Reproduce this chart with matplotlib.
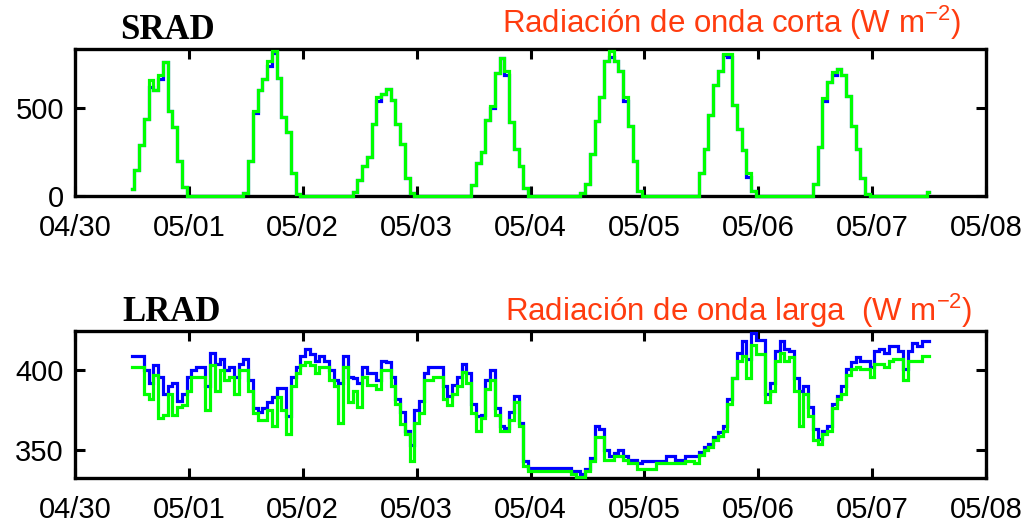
import numpy as np
import pandas as pd
import matplotlib
matplotlib.use("Agg")
import matplotlib.pyplot as plt
import matplotlib.dates as mdates

# ---------------- data (hourly, 04/30 12:00 -> 05/07 12:00) ----------------
start_time = "2009-04-30 12:00"
n_hours = 169

# Shortwave radiation (W m-2), green series
srad_green = [
    # 04/30 12-23
    40, 150, 290, 440, 660, 600, 690, 763, 480, 390, 200, 50,
    # 05/01
    0, 0, 0, 0, 0, 0, 0, 0, 0, 0, 0, 0, 17, 200, 481, 600, 662, 767, 824, 668, 450, 366, 132, 13,
    # 05/02
    0, 0, 0, 0, 0, 0, 0, 0, 0, 0, 0, 20, 90, 172, 220, 410, 560, 580, 605, 548, 410, 296, 100, 17,
    # 05/03
    0, 0, 0, 0, 0, 0, 0, 0, 0, 0, 0, 0, 60, 185, 252, 430, 510, 700, 786, 710, 420, 265, 170, 48,
    # 05/04
    0, 0, 0, 0, 0, 0, 0, 0, 0, 0, 0, 15, 70, 240, 424, 561, 767, 824, 767, 710, 560, 395, 200, 30,
    # 05/05
    0, 0, 0, 0, 0, 0, 0, 0, 0, 0, 0, 0, 128, 265, 460, 628, 710, 805, 805, 519, 380, 261, 128, 30,
    # 05/06
    0, 0, 0, 0, 0, 0, 0, 0, 0, 0, 0, 0, 70, 280, 557, 650, 704, 719, 690, 567, 395, 265, 100, 13,
    # 05/07 00-12
    0, 0, 0, 0, 0, 0, 0, 0, 0, 0, 0, 0, 20,
]

# Shortwave radiation (W m-2), blue series
srad_blue = [
    40, 150, 290, 440, 620, 600, 662, 763, 480, 390, 200, 50,
    0, 0, 0, 0, 0, 0, 0, 0, 0, 0, 0, 0, 17, 200, 470, 600, 662, 740, 810, 668, 450, 366, 132, 13,
    0, 0, 0, 0, 0, 0, 0, 0, 0, 0, 0, 20, 90, 172, 220, 410, 540, 580, 605, 548, 410, 296, 100, 17,
    0, 0, 0, 0, 0, 0, 0, 0, 0, 0, 0, 0, 60, 185, 252, 430, 500, 700, 786, 690, 420, 265, 170, 48,
    0, 0, 0, 0, 0, 0, 0, 0, 0, 0, 0, 15, 70, 240, 424, 561, 767, 790, 767, 710, 540, 395, 200, 30,
    0, 0, 0, 0, 0, 0, 0, 0, 0, 0, 0, 0, 128, 265, 460, 628, 710, 800, 790, 519, 380, 261, 110, 30,
    0, 0, 0, 0, 0, 0, 0, 0, 0, 0, 0, 0, 70, 280, 540, 650, 690, 719, 690, 567, 395, 265, 100, 13,
    0, 0, 0, 0, 0, 0, 0, 0, 0, 0, 0, 0, 20,
]

# Longwave radiation (W m-2), blue series
lrad_blue = [
    # 04/30 12-23
    409, 409, 409, 400, 392, 403, 396, 385, 390, 392, 381, 385,
    # 05/01
    396, 400, 402, 402, 390, 411, 404, 407, 400, 402, 396, 404,
    407, 394, 376, 374, 376, 380, 383, 389, 389, 371, 396, 402,
    # 05/02
    409, 413, 410, 406, 409, 406, 400, 394, 392, 409, 396, 395,
    392, 402, 398, 398, 394, 406, 405, 396, 382, 374, 362, 353,
    # 05/03
    375, 381, 398, 402, 402, 402, 390, 384, 391, 396, 404, 398,
    379, 371, 372, 394, 400, 376, 365, 364, 374, 384, 367, 343,
    # 05/04
    339, 339, 339, 339, 339, 339, 339, 339, 339, 337, 337, 335,
    338, 345, 365, 363, 350, 346, 348, 350, 346, 344, 344, 342,
    # 05/05
    343, 343, 343, 343, 343, 346, 346, 344, 344, 346, 346, 346,
    349, 352, 354, 358, 361, 365, 382, 395, 411, 418, 407, 423,
    # 05/06
    419, 419, 385, 392, 412, 418, 413, 412, 395, 387, 390, 377,
    363, 357, 362, 365, 379, 384, 390, 401, 405, 408, 406, 406,
    # 05/07 00-12
    402, 412, 413, 411, 415, 415, 412, 401, 412, 417, 415, 418, 418,
]

# Longwave radiation (W m-2), green series
lrad_green = [
    402, 402, 402, 385, 382, 397, 370, 372, 385, 372, 377, 378,
    387, 396, 396, 396, 375, 403, 387, 400, 394, 396, 385, 400,
    400, 387, 373, 369, 369, 375, 365, 383, 375, 360, 390, 398,
    403, 405, 403, 398, 402, 402, 394, 390, 367, 402, 380, 387,
    377, 396, 391, 391, 388, 400, 400, 390, 379, 366, 360, 343,
    367, 373, 394, 394, 396, 396, 382, 378, 385, 390, 399, 392,
    373, 362, 370, 388, 394, 372, 362, 362, 369, 380, 365, 340,
    337, 337, 337, 337, 337, 337, 337, 337, 337, 335, 333, 333,
    337, 343, 358, 358, 344, 344, 346, 346, 344, 342, 342, 338,
    338, 338, 338, 342, 342, 342, 342, 342, 342, 343, 343, 342,
    347, 350, 352, 356, 359, 362, 379, 395, 406, 409, 395, 416,
    410, 410, 380, 387, 406, 411, 406, 408, 387, 365, 385, 371,
    356, 354, 360, 362, 376, 382, 385, 397, 401, 402, 401, 401,
    396, 404, 404, 402, 406, 407, 407, 394, 406, 406, 406, 409, 409,
]

day_ticks = ["2009-04-30", "2009-05-01", "2009-05-02", "2009-05-03", "2009-05-04",
             "2009-05-05", "2009-05-06", "2009-05-07", "2009-05-08"]
srad_yticks = [0, 500]
lrad_yticks = [350, 400]

# ---------------- style ----------------
plt.rcParams["mathtext.fontset"] = "custom"
plt.rcParams["mathtext.rm"] = "Liberation Sans"
TICK_FONT = "Liberation Sans"
TICK_SIZE = 21

RED = "#ff3c0f"
GREEN = "#00ff00"
BLUE = "#0000ff"

times = pd.date_range(start_time, periods=n_hours, freq="h")

fig = plt.figure(figsize=(10.32, 5.25), dpi=100)
W, H = 1032, 525


def make_axes(top_px, bottom_px):
    return fig.add_axes([75 / W, 1 - bottom_px / H, (986 - 75) / W, (bottom_px - top_px) / H])


ax1 = make_axes(49, 196)
ax2 = make_axes(331, 478)

for ax, blue, green, yticks, ylim in [
    (ax1, srad_blue, srad_green, srad_yticks, (0, 835)),
    (ax2, lrad_blue, lrad_green, lrad_yticks, (332.5, 424.5)),
]:
    ax.plot(times, blue, color=BLUE, lw=2.3, drawstyle="steps-mid",
            solid_joinstyle="miter", zorder=3, clip_on=False)
    ax.plot(times, green, color=GREEN, lw=2.3, drawstyle="steps-mid",
            solid_joinstyle="miter", zorder=3.1, clip_on=False)
    ax.set_ylim(*ylim)
    ax.set_xlim(pd.Timestamp(day_ticks[0]), pd.Timestamp(day_ticks[-1]))
    ax.set_xticks(pd.to_datetime(day_ticks))
    ax.xaxis.set_major_formatter(mdates.DateFormatter("%m/%d"))
    ax.set_yticks(yticks)
    ax.tick_params(axis="both", direction="in", length=7, width=2.2,
                   top=True, right=True, labelsize=TICK_SIZE, colors="black")
    ax.tick_params(axis="x", pad=13)
    ax.tick_params(axis="y", pad=8)
    for lab in ax.get_xticklabels() + ax.get_yticklabels():
        lab.set_fontfamily(TICK_FONT)
    for s in ax.spines.values():
        s.set_linewidth(2.4)
        s.set_color("black")
        s.set_zorder(2.5)

fig.text(120 / W, 1 - 39 / H, "SRAD", fontsize=25, fontweight="bold",
         family="Liberation Serif", va="baseline", ha="left")
fig.text(122 / W, 1 - 321 / H, "LRAD", fontsize=25, fontweight="bold",
         family="Liberation Serif", va="baseline", ha="left")

fig.text(502 / W, 1 - 33 / H, r"Radiación de onda corta (W m$\mathregular{^{-2}}$)",
         fontsize=22.5, color=RED, family="Liberation Sans", va="baseline", ha="left")
fig.text(505 / W, 1 - 321 / H, r"Radiación de onda larga  (W m$\mathregular{^{-2}}$)",
         fontsize=22.5, color=RED, family="Liberation Sans", va="baseline", ha="left")

fig.savefig("out.png", dpi=100)
